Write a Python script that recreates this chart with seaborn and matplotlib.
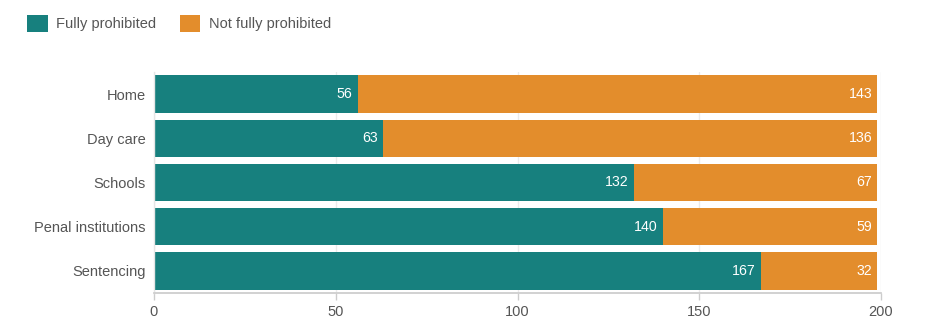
import matplotlib
matplotlib.use("Agg")
import matplotlib.pyplot as plt
import seaborn as sns
import pandas as pd
from matplotlib.patches import Patch

categories = ["Home", "Day care", "Schools", "Penal institutions", "Sentencing"]
fully = [56, 63, 132, 140, 167]
not_fully = [143, 136, 67, 59, 32]
series_names = ["Fully prohibited", "Not fully prohibited"]
x_ticks = [0, 50, 100, 150, 200]

teal = "#17807e"
orange = "#e38d2c"
txt = "#555555"

sns.set_theme(style="white")
plt.rcParams['font.family'] = ['Arial', 'Liberation Sans', 'DejaVu Sans']

df = pd.DataFrame({"cat": categories, "fully": fully, "not_fully": not_fully})
df["total"] = df["fully"] + df["not_fully"]

fig = plt.figure(figsize=(9.44, 3.26), dpi=100)
ax = fig.add_axes([154/944, 1 - 293/326, (881 - 154)/944, (293 - 72)/326])

sns.barplot(data=df, y="cat", x="total", color=orange, orient="h", ax=ax,
            width=0.85, saturation=1, linewidth=0)
sns.barplot(data=df, y="cat", x="fully", color=teal, orient="h", ax=ax,
            width=0.85, saturation=1, linewidth=0)

ax.set_xlim(0, 200)
ax.set_ylim(4.5, -0.5)
ax.set_xticks(x_ticks)
ax.set_xticklabels([str(t) for t in x_ticks], color=txt, fontsize=10.5)
ax.set_ylabel("")
ax.set_xlabel("")
ax.tick_params(axis="y", length=0, pad=6, labelsize=10.5, labelcolor=txt)
ax.tick_params(axis="x", length=5, width=1, color="#cccccc", pad=4, bottom=True)

ax.grid(axis="x", color="#ebebeb", linewidth=1)
ax.set_axisbelow(True)
for s in ["top", "right"]:
    ax.spines[s].set_visible(False)
ax.spines["bottom"].set_color("#cccccc")
ax.spines["left"].set_color("#e6e6e6")
ax.spines["left"].set_linewidth(1)

for i, (f, n) in enumerate(zip(fully, not_fully)):
    ax.text(f - 1.4, i, str(f), color="white", ha="right", va="center",
            fontsize=10.2)
    ax.text(f + n - 1.4, i, str(n), color="white", ha="right", va="center",
            fontsize=10.2)

handles = [Patch(facecolor=teal, edgecolor="none"), Patch(facecolor=orange, edgecolor="none")]
fig.legend(handles, series_names, loc="upper left", bbox_to_anchor=(0.015, 0.995),
           ncol=2, frameon=False, fontsize=10.5, labelcolor=txt,
           handlelength=1.4, handleheight=1.4, handletextpad=0.6, columnspacing=1.6)

fig.savefig("out.png", dpi=100)
